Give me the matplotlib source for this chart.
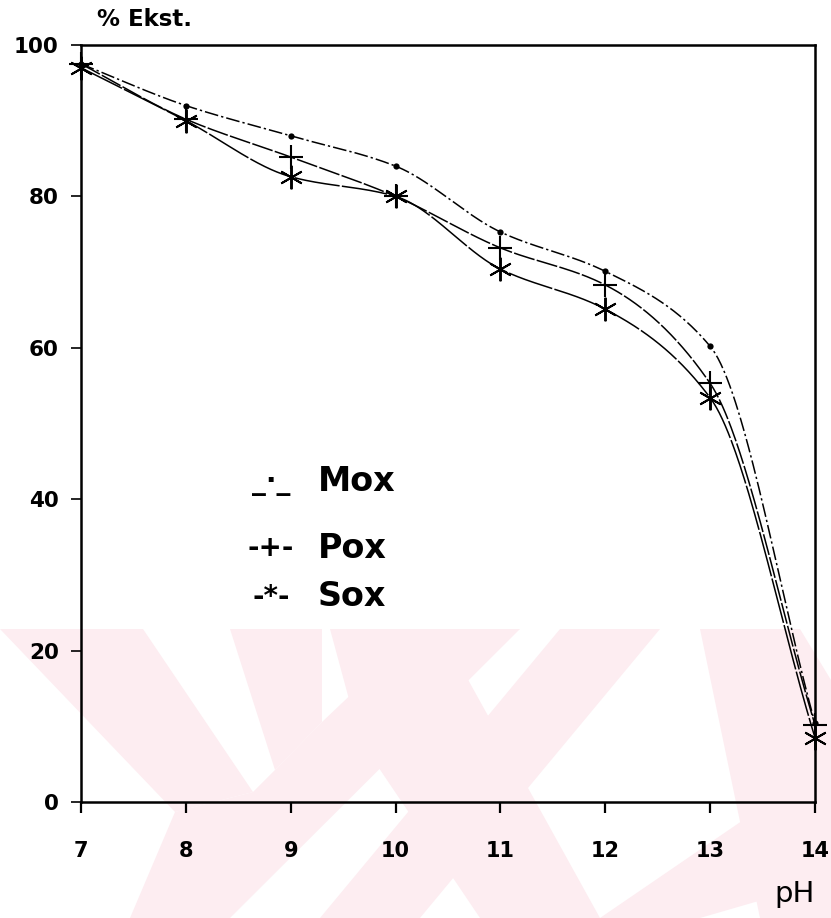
import numpy as np
import matplotlib
matplotlib.use("Agg")
import matplotlib.pyplot as plt
from matplotlib.patches import Polygon

# Extraction percentage versus pH for three compounds
ph = [7, 8, 9, 10, 11, 12, 13, 14]
mox = [97.5, 92.0, 88.0, 84.0, 75.3, 70.1, 60.2, 10.4]
pox = [97.5, 90.2, 85.2, 80.0, 73.2, 68.3, 55.3, 10.2]
sox = [97.0, 90.0, 82.6, 80.0, 70.4, 65.1, 53.4, 8.5]

x_ticks = [7, 8, 9, 10, 11, 12, 13, 14]
y_ticks = [0, 20, 40, 60, 80, 100]
series_names = ["Mox", "Pox", "Sox"]
legend_marks = ["_·_", "-+-", "-*-"]

W, H = 831, 918
FONT = "DejaVu Sans"


def pchip(x, y, xs):
    """Monotone cubic Hermite interpolation for a smooth curve through the points."""
    x = np.asarray(x, float)
    y = np.asarray(y, float)
    h = np.diff(x)
    d = np.diff(y) / h
    m = np.zeros_like(y)
    for k in range(1, len(x) - 1):
        if d[k - 1] * d[k] > 0:
            w1 = 2 * h[k] + h[k - 1]
            w2 = h[k] + 2 * h[k - 1]
            m[k] = (w1 + w2) / (w1 / d[k - 1] + w2 / d[k])
    m[0] = d[0]
    m[-1] = d[-1]
    idx = np.clip(np.searchsorted(x, xs) - 1, 0, len(x) - 2)
    t = (xs - x[idx]) / h[idx]
    h00 = 2 * t**3 - 3 * t**2 + 1
    h10 = t**3 - 2 * t**2 + t
    h01 = -2 * t**3 + 3 * t**2
    h11 = t**3 - t**2
    return h00 * y[idx] + h10 * h[idx] * m[idx] + h01 * y[idx + 1] + h11 * h[idx] * m[idx + 1]


fig = plt.figure(figsize=(W / 100, H / 100), dpi=100)
fig.patch.set_facecolor("white")

# light pink stamp across the lower part of the page, drawn in page pixels
bg = fig.add_axes([0, 0, 1, 1], zorder=0)
bg.set_xlim(0, W)
bg.set_ylim(H, 0)
bg.axis("off")
pink = "#fdedf1"
top = 629
stamp = [
    [(0, top), (143, top), (253, 792), (175, 812)],
    [(230, top), (322, top), (322, 722), (275, 770)],
    [(322, 722), (420, top), (520, top), (230, 918), (130, 918), (175, 812), (253, 792), (275, 770)],
    [(330, top), (440, top), (600, 918), (480, 918), (360, 740)],
    [(560, top), (660, top), (420, 918), (320, 918)],
    [(700, top), (800, top), (831, 680), (831, 918), (760, 918)],
    [(831, 760), (831, 880), (700, 918), (600, 918)],
]
for poly in stamp:
    bg.add_patch(Polygon(poly, closed=True, facecolor=pink, edgecolor="none"))

ax = fig.add_axes([81 / W, 1 - 802 / H, (815 - 81) / W, (802 - 45) / H], zorder=2)
ax.set_facecolor("none")
ax.set_xlim(7, 14)
ax.set_ylim(0, 100)

xs = np.linspace(7, 14, 500)
styles = [
    dict(ls=(0, (9, 2, 1.5, 2)), marker="o", ms=4.5, mew=0),
    dict(ls=(0, (14, 1.5)), marker="+", ms=17, mew=1.5),
    dict(ls=(0, (30, 1.5)), marker=(6, 2, 0), ms=17, mew=1.4),
]
for vals, st in zip([mox, pox, sox], styles):
    ax.plot(xs, pchip(ph, vals, xs), color="black", lw=1.1, ls=st["ls"], clip_on=False, zorder=3)
    ax.plot(ph, vals, ls="none", marker=st["marker"], ms=st["ms"], mew=st["mew"],
            color="black", clip_on=False, zorder=4)

for side in ["left", "bottom", "right", "top"]:
    ax.spines[side].set_linewidth(1.8)
    ax.spines[side].set_color("black")

ax.set_xticks(x_ticks)
ax.set_yticks(y_ticks)
ax.set_xticklabels([str(v) for v in x_ticks], fontsize=15, fontweight="bold", fontfamily=FONT)
ax.set_yticklabels([str(v) for v in y_ticks], fontsize=15.5, fontweight="bold", fontfamily=FONT)
ax.tick_params(axis="x", direction="out", length=8, width=1.6, pad=20)
ax.tick_params(axis="y", direction="out", length=7, width=1.2, pad=9)

fig.text(97 / W, 1 - 19 / H, "% Ekst.", fontsize=16.5, fontfamily=FONT, fontweight="bold",
         ha="left", va="center")
fig.text(815 / W, 1 - 894 / H, "pH", fontsize=21, fontfamily=FONT,
         ha="right", va="center")

# hand-lettered key
key_y = [482, 548, 597]
for name, mark, yy in zip(series_names, legend_marks, key_y):
    fig.text(271 / W, 1 - yy / H, mark, fontsize=20, fontfamily=FONT, fontweight="bold",
             ha="center", va="center")
    fig.text(318 / W, 1 - yy / H, name, fontsize=24, fontfamily=FONT, fontweight="bold",
             ha="left", va="center")

fig.savefig("out.png", dpi=100, facecolor="white")
